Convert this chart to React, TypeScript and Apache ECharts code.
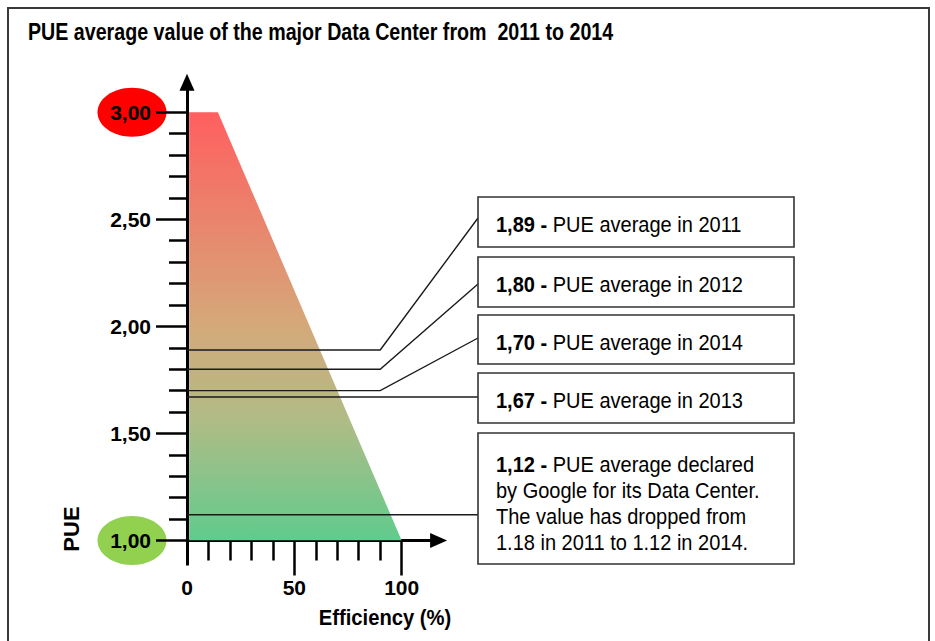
import React, { useEffect, useRef } from "react";
import * as echarts from "echarts";

const TITLE = "PUE average value of the major Data Center from  2011 to 2014";
const X_NAME = "Efficiency (%)";
const Y_NAME = "PUE";

// Shape of the efficiency band (trapezoid)
const shapeEfficiency = [1, 14.4, 100];
const shapePUE = [3.0, 3.0, 1.0];

// Axis ticks
const yMajorTicks = [1.0, 1.5, 2.0, 2.5, 3.0];
const yMinorTicks = [1.1, 1.2, 1.3, 1.4, 1.6, 1.7, 1.8, 1.9, 2.1, 2.2, 2.3, 2.4, 2.6, 2.7, 2.8, 2.9];
const xLabelTicks = [0, 50, 100];
const xMajorTicks = [50, 100];
const xMinorTicks = [10, 20, 30, 40, 60, 70, 80, 90];

// Annotated PUE values
const annotationValues = [1.89, 1.8, 1.7, 1.67, 1.12];
const annotationBold = ["1,89 -", "1,80 -", "1,70 -", "1,67 -", "1,12 -"];
const annotationText = [
  "PUE average in 2011",
  "PUE average in 2012",
  "PUE average in 2014",
  "PUE average in 2013",
  "PUE average declared\nby Google for its Data Center.\nThe value has dropped from\n1.18 in 2011 to 1.12 in 2014.",
];
const elbowEfficiency = [90, 90, 90, null, null];

const highlightedValues = [3.0, 1.0];
const highlightedColors = ["#FF0000", "#92D050"];

// Layout (pixels)
const FONT = "'Liberation Sans', Arial, sans-serif";
const BOX_X = 478;
const BOX_W = 316;
const boxLayout = [
  { y: 197, h: 50, anchor: 218 },
  { y: 257, h: 50, anchor: 284 },
  { y: 315, h: 49, anchor: 338 },
  { y: 373, h: 50, anchor: null },
  { y: 433, h: 131, anchor: null },
];

const fmt = (v: number) => v.toFixed(2).replace(".", ",");

export default function App() {
  const ref = useRef<HTMLDivElement>(null);
  useEffect(() => {
    document.body.style.margin = "0";
    const chart = echarts.init(ref.current!, null, { renderer: "svg" });
    const X_MAX = 117.2;
    const Y_MAX = 3.14;
    const axisLineStyle = { color: "#000", width: 3 };
    const tickStyle = { color: "#000", width: 2.5 };
    const labelFont = { fontFamily: FONT, fontWeight: "bold", fontSize: 21, color: "#000" };
    const base: any = {
      animation: false,
      backgroundColor: "#fff",
      grid: { left: 187, top: 82.3, width: 251.6, height: 458.2, outerBoundsMode: "none", containLabel: false },
      xAxis: [
        {
          type: "value", min: 0, max: X_MAX, position: "bottom", offset: 0,
          axisLine: { show: true, onZero: false, lineStyle: axisLineStyle, symbol: ["none", "triangle"], symbolSize: [15, 17] },
          axisTick: { show: true, customValues: xMinorTicks, length: 20, lineStyle: tickStyle },
          axisLabel: { show: false },
          splitLine: { show: false },
        },
        {
          type: "value", min: 0, max: X_MAX, position: "bottom", offset: 0,
          axisLine: { show: false, onZero: false },
          axisTick: { show: true, customValues: xMajorTicks, length: 35, lineStyle: tickStyle },
          axisLabel: { show: true, customValues: xLabelTicks, margin: 36, ...labelFont },
          splitLine: { show: false },
        },
        {
          type: "value", min: 0, max: X_MAX, position: "bottom", offset: 0,
          axisLine: { show: false, onZero: false },
          axisTick: { show: true, customValues: [0], length: 25, lineStyle: axisLineStyle },
          axisLabel: { show: false },
          splitLine: { show: false },
        },
      ],
      yAxis: [
        {
          type: "value", min: 1, max: Y_MAX, position: "left", offset: 0,
          axisLine: { show: true, onZero: false, lineStyle: axisLineStyle, symbol: ["none", "triangle"], symbolSize: [15, 17] },
          axisTick: { show: true, customValues: yMinorTicks, length: 18, lineStyle: tickStyle },
          axisLabel: { show: false },
          splitLine: { show: false },
        },
        {
          type: "value", min: 1, max: Y_MAX, position: "left", offset: 0,
          axisLine: { show: false, onZero: false },
          axisTick: { show: true, customValues: yMajorTicks, length: 31, lineStyle: tickStyle },
          axisLabel: { show: true, customValues: yMajorTicks, margin: 36, formatter: (v: number) => fmt(v), ...labelFont },
          splitLine: { show: false },
        },
      ],
      series: [
        {
          type: "line",
          xAxisIndex: 0,
          yAxisIndex: 0,
          data: shapeEfficiency.map((e, i) => [e, shapePUE[i]]),
          symbol: "none",
          lineStyle: { width: 0, opacity: 0 },
          areaStyle: {
            opacity: 1,
            color: new echarts.graphic.LinearGradient(0, 0, 0, 1, [
              { offset: 0, color: "#FF5F5F" },
              { offset: 0.5, color: "#D4A97A" },
              { offset: 0.72, color: "#B0BC86" },
              { offset: 1, color: "#60CB8D" },
            ]),
          },
          z: 1,
        },
      ],
    };
    chart.setOption(base);

    const toPx = (x: number, y: number) => chart.convertToPixel({ xAxisIndex: 0, yAxisIndex: 0 }, [x, y]) as number[];

    const graphics: any[] = [];
    graphics.push({
      type: "rect",
      shape: { x: 8, y: 8, width: 921, height: 660 },
      style: { fill: "none", stroke: "#3a3a3a", lineWidth: 2 },
      z: -20,
      silent: true,
    });
    graphics.push({
      type: "text",
      x: 28,
      y: 32.5,
      scaleX: 0.855,
      style: { text: TITLE, fontFamily: FONT, fontWeight: "bold", fontSize: 23, fill: "#000", verticalAlign: "middle", align: "left" },
    });
    highlightedValues.forEach((v, i) => {
      const p = toPx(0, v);
      graphics.push({
        type: "ellipse",
        shape: { cx: 132, cy: p[1], rx: 34.5, ry: 24.5 },
        style: { fill: highlightedColors[i] },
        z: -10,
      });
    });
    // leader lines: start on the PUE value (through the axis scales), end on the box
    annotationValues.forEach((v, i) => {
      const lay = boxLayout[i];
      const elbow = elbowEfficiency[i];
      const start = toPx(0, v);
      const points: number[][] = [start];
      if (elbow != null && lay.anchor != null) {
        points.push(toPx(elbow, v));
        points.push([BOX_X, lay.anchor]);
      } else {
        points.push([BOX_X, start[1]]);
      }
      graphics.push({
        type: "polyline",
        shape: { points },
        style: { stroke: "#1a1a1a", lineWidth: 1.4, fill: "none" },
        z: 3,
      });
    });
    boxLayout.forEach((lay, i) => {
      graphics.push({
        type: "rect",
        shape: { x: BOX_X, y: lay.y, width: BOX_W, height: lay.h },
        style: { fill: "#fff", stroke: "#333", lineWidth: 1.6 },
        z: 5,
      });
      const multi = annotationText[i].includes("\n");
      graphics.push({
        type: "text",
        x: BOX_X + 18,
        y: lay.y + lay.h / 2 + (multi ? 5 : 2.5),
        scaleX: 0.91,
        style: {
          text: `{b|${annotationBold[i]}} ${annotationText[i]}`,
          fontFamily: FONT,
          fontSize: 22,
          fill: "#000",
          lineHeight: 26,
          verticalAlign: "middle",
          align: "left",
          rich: { b: { fontFamily: FONT, fontSize: 22, fontWeight: "bold", fill: "#000", lineHeight: 26 } },
        },
        z: 6,
      });
    });
    graphics.push({
      type: "text",
      x: 385,
      y: 617,
      scaleX: 0.92,
      style: { text: X_NAME, fontFamily: FONT, fontSize: 22, fontWeight: "bold", fill: "#000", align: "center", verticalAlign: "middle" },
    });
    graphics.push({
      type: "text",
      x: 71,
      y: 529,
      rotation: Math.PI / 2,
      style: { text: Y_NAME, fontFamily: FONT, fontSize: 22, fontWeight: "bold", fill: "#000", align: "center", verticalAlign: "middle" },
    });

    chart.setOption({ graphic: graphics });

    return () => chart.dispose();
  }, []);
  return <div ref={ref} style={{ width: 935, height: 641, position: "fixed", left: 0, top: 0 }} />;
}
